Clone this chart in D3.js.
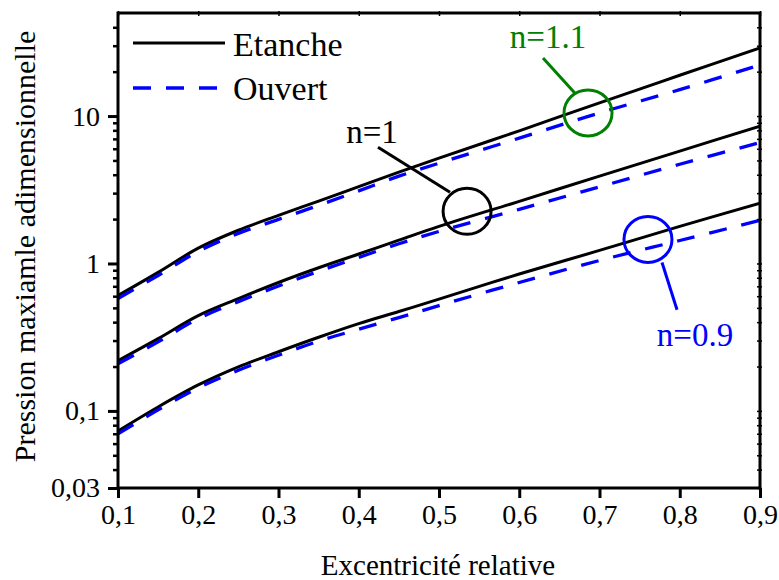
<!DOCTYPE html>
<html>
<head>
<meta charset="utf-8">
<script src="https://cdn.jsdelivr.net/npm/d3@7"></script>
<style>
  html, body { margin: 0; padding: 0; background: #fff; }
  svg { display: block; font-family: "Liberation Serif", "Times New Roman", serif; }
  svg text { font-family: "Liberation Serif", "Times New Roman", serif; }
</style>
</head>
<body>
<svg id="chart" width="779" height="580"></svg>
<script>
// ---- Data ----
const excentricite = [0.1, 0.15, 0.2, 0.25, 0.3, 0.35, 0.4, 0.45, 0.5, 0.6, 0.7, 0.8, 0.9];

const etanche_n11 = [0.606, 0.87, 1.27, 1.68, 2.12, 2.65, 3.32, 4.16, 5.18, 7.94, 12.3, 18.9, 29.0];
const ouvert_n11  = [0.578, 0.829, 1.207, 1.60, 1.99, 2.48, 3.11, 3.91, 4.79, 7.08, 10.5, 15.1, 22.2];

const etanche_n1  = [0.219, 0.309, 0.443, 0.578, 0.743, 0.935, 1.16, 1.44, 1.786, 2.64, 3.91, 5.78, 8.55];
const ouvert_n1   = [0.209, 0.294, 0.422, 0.551, 0.703, 0.885, 1.10, 1.36, 1.651, 2.33, 3.31, 4.71, 6.61];

const etanche_n09 = [0.0731, 0.1064, 0.150, 0.199, 0.252, 0.316, 0.391, 0.472, 0.573, 0.848, 1.226, 1.786, 2.56];
const ouvert_n09  = [0.0698, 0.1016, 0.1433, 0.1887, 0.2388, 0.2972, 0.3584, 0.4295, 0.518, 0.743, 1.048, 1.432, 1.96];

const xTicks = [0.1, 0.2, 0.3, 0.4, 0.5, 0.6, 0.7, 0.8, 0.9];
const xTickLabels = ["0,1", "0,2", "0,3", "0,4", "0,5", "0,6", "0,7", "0,8", "0,9"];
const yTicks = [0.03, 0.1, 1, 10];
const yTickLabels = ["0,03", "0,1", "1", "10"];
const yMinorTicks = [0.04, 0.05, 0.06, 0.07, 0.08, 0.09,
                     0.2, 0.3, 0.4, 0.5, 0.6, 0.7, 0.8, 0.9,
                     2, 3, 4, 5, 6, 7, 8, 9,
                     20, 30, 40];

const legendLabels = ["Etanche", "Ouvert"];
const xTitle = "Excentricité relative";
const yTitle = "Pression maxiamle adimensionnelle";

// annotations (data coordinates): label, circle centre, leader line ends, label anchor
const annotations = [
  { label: "n=1.1", color: "#008000", cx: 0.6857, cy: 10.5, l1: [0.6296, 24.8], l2: [0.6695, 14.3], t: [0.6358, 29.0] },
  { label: "n=1",   color: "#000000", cx: 0.535,  cy: 2.26, l1: [0.424, 6.15],  l2: [0.5137, 3.04], t: [0.4165, 6.55] },
  { label: "n=0.9", color: "#0000ff", cx: 0.7604, cy: 1.456, l1: [0.7779, 1.016], l2: [0.7966, 0.486], t: [0.819, 0.2767] }
];

// ---- Layout ----
const svg = d3.select("#chart");
const L = 118, R = 760, T = 13, B = 488;
const FONT = "Liberation Serif, Times New Roman, serif";

const x = d3.scaleLinear().domain([0.1, 0.9]).range([L, R]);
const y = d3.scaleLog().domain([0.03, 50]).range([B, T]);

const curve = d3.line().curve(d3.curveCatmullRom.alpha(0.5)).x(d => x(d[0])).y(d => y(d[1]));
const toPts = vals => excentricite.map((e, i) => [e, vals[i]]);

const solids = [etanche_n11, etanche_n1, etanche_n09];
const dashes = [ouvert_n11, ouvert_n1, ouvert_n09];

svg.append("clipPath").attr("id", "clip")
  .append("rect").attr("x", L).attr("y", T).attr("width", R - L).attr("height", B - T);
const plot = svg.append("g").attr("clip-path", "url(#clip)");

solids.forEach(v => {
  plot.append("path").attr("d", curve(toPts(v)))
    .attr("fill", "none").attr("stroke", "#000").attr("stroke-width", 3);
});
dashes.forEach(v => {
  plot.append("path").attr("d", curve(toPts(v)))
    .attr("fill", "none").attr("stroke", "#0000ff").attr("stroke-width", 3.3)
    .attr("stroke-dasharray", "18,15");
});

// ---- Axes ----
const fontTick = 28;

const xAxis = d3.axisBottom(x).tickValues(xTicks).tickSize(10).tickSizeOuter(0)
  .tickFormat((d, i) => xTickLabels[i]).tickPadding(6);
const gx = svg.append("g").attr("transform", `translate(0,${B})`).call(xAxis)
  .attr("font-family", FONT);
gx.select(".domain").remove();
gx.selectAll(".tick line").attr("stroke", "#000").attr("stroke-width", 3);
gx.selectAll(".tick text").attr("font-size", fontTick).attr("fill", "#000");

const yAxis = d3.axisLeft(y).tickValues(yTicks).tickSize(10).tickSizeOuter(0)
  .tickFormat((d, i) => yTickLabels[i]).tickPadding(8);
const gy = svg.append("g").attr("transform", `translate(${L},0)`).call(yAxis)
  .attr("font-family", FONT);
gy.select(".domain").remove();
gy.selectAll(".tick line").attr("stroke", "#000").attr("stroke-width", 3);
gy.selectAll(".tick text").attr("font-size", fontTick).attr("fill", "#000");

const gyMinor = svg.append("g").attr("transform", `translate(${L},0)`)
  .call(d3.axisLeft(y).tickValues(yMinorTicks).tickSize(5).tickFormat(""));
gyMinor.select(".domain").remove();
gyMinor.selectAll(".tick line").attr("stroke", "#000").attr("stroke-width", 2.5);

// right (small ticks straddling the frame)
const gr = svg.append("g").attr("transform", `translate(${R + 2},0)`)
  .call(d3.axisLeft(y).tickValues(yTicks.concat(yMinorTicks)).tickSize(5).tickFormat(""));
gr.select(".domain").remove();
gr.selectAll(".tick line").attr("stroke", "#000").attr("stroke-width", 1.5);

// top (small ticks)
const gt = svg.append("g").attr("transform", `translate(0,${T - 2})`)
  .call(d3.axisBottom(x).tickValues(xTicks).tickSize(5).tickFormat(""));
gt.select(".domain").remove();
gt.selectAll(".tick line").attr("stroke", "#000").attr("stroke-width", 1.5);

// frame
svg.append("rect").attr("x", L).attr("y", T).attr("width", R - L).attr("height", B - T)
  .attr("fill", "none").attr("stroke", "#000").attr("stroke-width", 3);

// ---- Titles ----
svg.append("text").attr("x", (L + R) / 2 - 1).attr("y", 575)
  .attr("text-anchor", "middle").attr("font-size", 29).attr("fill", "#000").text(xTitle);

svg.append("text").attr("transform", `translate(35,${(T + B) / 2 - 4}) rotate(-90)`)
  .attr("text-anchor", "middle").attr("font-size", 30).attr("fill", "#000").text(yTitle);

// ---- Legend ----
const lg = svg.append("g");
lg.append("line").attr("x1", 133).attr("x2", 225).attr("y1", 43).attr("y2", 43)
  .attr("stroke", "#000").attr("stroke-width", 3);
lg.append("line").attr("x1", 133).attr("x2", 220).attr("y1", 88).attr("y2", 88)
  .attr("stroke", "#0000ff").attr("stroke-width", 3.3).attr("stroke-dasharray", "18,15");
lg.append("text").attr("x", 233).attr("y", 56).attr("font-size", 34).attr("fill", "#000").text(legendLabels[0]);
lg.append("text").attr("x", 233).attr("y", 100).attr("font-size", 34).attr("fill", "#000").text(legendLabels[1]);

// ---- Annotations ----
annotations.forEach(a => {
  svg.append("ellipse").attr("cx", x(a.cx)).attr("cy", y(a.cy)).attr("rx", 24).attr("ry", 23)
    .attr("fill", "none").attr("stroke", a.color).attr("stroke-width", 3);
  svg.append("line").attr("x1", x(a.l1[0])).attr("y1", y(a.l1[1]))
    .attr("x2", x(a.l2[0])).attr("y2", y(a.l2[1]))
    .attr("stroke", a.color).attr("stroke-width", 3);
  svg.append("text").attr("x", x(a.t[0])).attr("y", y(a.t[1]))
    .attr("text-anchor", "middle").attr("font-size", 33).attr("fill", a.color).text(a.label);
});
</script>
</body>
</html>
